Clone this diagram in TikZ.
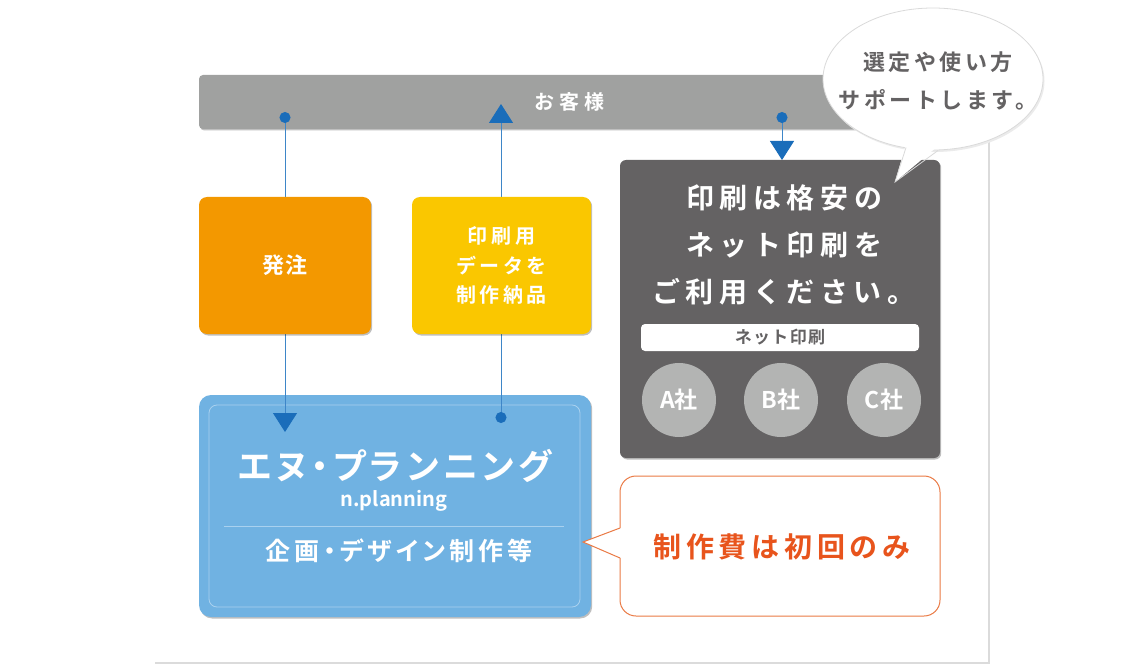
\documentclass[tikz,border=0pt]{standalone}
\usepackage{fontspec}
\setmainfont{Noto Sans CJK JP}[BoldFont={* Bold}]
\usetikzlibrary{arrows.meta,shapes.geometric,shadows}

\definecolor{bargray}{HTML}{A0A1A0}
\definecolor{darkgray}{HTML}{646263}
\definecolor{coingray}{HTML}{B3B4B3}
\definecolor{ordercol}{HTML}{F39800}
\definecolor{datacol}{HTML}{FAC700}
\definecolor{npblue}{HTML}{70B2E2}
\definecolor{npline}{HTML}{A9D1EF}
\definecolor{flowblue}{HTML}{1A6DBA}
\definecolor{flowline}{HTML}{3E86C8}
\definecolor{callline}{HTML}{EA7A45}
\definecolor{calltext}{HTML}{E8541C}
\definecolor{bubblerim}{HTML}{DADADA}

\tikzset{
  box/.style={rounded corners=#1,inner sep=0pt,align=center,text=white,
    drop shadow={shadow xshift=1.2pt,shadow yshift=-1.5pt,opacity=.25,fill=black}},
  box/.default=8pt,
  flow/.style={draw=flowline,line width=1pt,
    {Circle[length=11pt,color=flowblue]}-{Triangle[width=24pt,length=19pt,color=flowblue]}},
  jp/.style n args={3}{font=\fontsize{#1}{#3}\selectfont\bfseries\addfontfeature{LetterSpace=#2}},
  jpp/.style n args={3}{font=\fontsize{#1}{#3}\selectfont\bfseries\addfontfeature{LetterSpace=#2,RawFeature=+palt}},
}

\begin{document}
\begin{tikzpicture}[x=1pt,y=-1pt]
\useasboundingbox (0,0) rectangle (1140,671);
% paper
\fill[black!14] (155,37) rectangle (989.5,663.5);
\fill[white] (153,35) rectangle (988,662);
% customer bar and N planning box
\node[box=4pt,fill=bargray,minimum width=741pt,minimum height=54pt,
  jp={20}{23}{20}] (guest) at (569.5,102) {お客様};
\node[box=12pt,fill=npblue,minimum width=392pt,minimum height=222pt] (np) at (395,506) {};
\draw[npline,line width=.8pt,rounded corners=8pt] (209,405) rectangle (580,607);
\draw[npline,line width=.8pt] (224,526) -- (564,526);
\node[jpp={35}{13}{35},text=white] (npname) at (395,466) {エヌ・プランニング};
\node[jp={20}{0}{20},text=white] (nproman) at (394,501) {n.planning};
\node[jpp={25}{16}{25},text=white] (npwork) at (399,551) {企画・デザイン制作等};
% flow lines
\coordinate (orderstart) at (285,112);
\coordinate (orderend) at (285,432);
\coordinate (datastart) at (501,423);
\coordinate (dataend) at (501,104);
\coordinate (netstart) at (782,112);
\coordinate (netend) at (782,160);
\draw[flow] (orderstart) -- (orderend);
\draw[flow] (datastart) -- (dataend);
\draw[flow] (netstart) -- (netend);
% order / data boxes
\node[box,fill=ordercol,minimum width=172pt,minimum height=137pt,jp={22}{9}{22}] (order) at (285,265.5) {発注};
\node[box,fill=datacol,minimum width=179pt,minimum height=137pt,
  jp={20}{18}{29.5}] (data) at (501.5,265.5) {印刷用\\データを\\制作納品};
% net printing
\node[box=6pt,fill=darkgray,minimum width=320pt,minimum height=298pt] (net) at (780,309) {};
\node[jp={28}{20}{47},text=white,align=center] (nettext) at (784,245)
  {印刷は格安の\\ネット印刷を\\ご利用ください。};
\node[rounded corners=4pt,fill=white,minimum width=278pt,minimum height=27pt,inner sep=0pt,
  jp={17}{8}{17},text=darkgray] (netbar) at (780,337.5) {ネット印刷};
\foreach \name/\px in {A/679,B/781,C/884}
  \node[circle,fill=coingray,minimum size=74pt,inner sep=0pt,jp={23}{0}{23},text=white] (co\name) at (\px,400) {\name 社};
% support bubble
\fill[black!8] (934.5,81) ellipse [x radius=110pt,y radius=71pt];
\draw[bubblerim,fill=white,line width=.8pt] (933,79) ellipse [x radius=110pt,y radius=71pt];
\fill[white] (906,144) -- (895,182) -- (938,146) -- cycle;
\draw[bubblerim,line width=.8pt] (906,147.5) -- (895,182) -- (938,150.5);
\node[jp={22}{16}{38},text=darkgray,align=center] (support) at (938,81)
  {選定や使い方\\サポートします。};
% cost callout
\node[rounded corners=16pt,fill=white,draw=callline,line width=1pt,minimum width=320pt,
  minimum height=140pt,inner sep=0pt] (cost) at (780,546) {};
\fill[white] (621,528) -- (583,542) -- (621,558) -- cycle;
\draw[callline,line width=1pt] (620,528) -- (583,542) -- (620,558);
\node[jp={28}{17}{28},text=calltext] (costtext) at (782,547) {制作費は初回のみ};
\end{tikzpicture}
\end{document}
